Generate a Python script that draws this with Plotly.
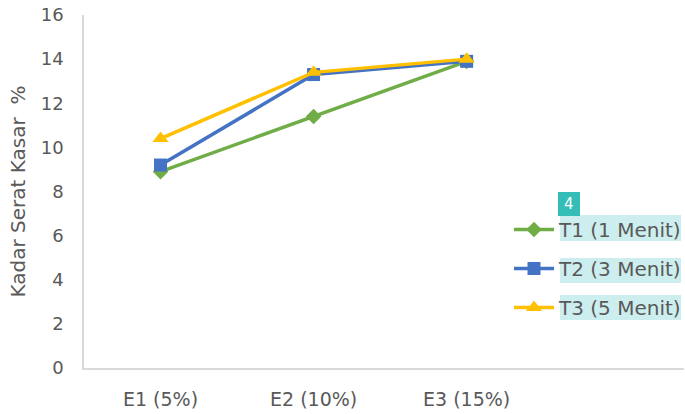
import plotly.graph_objects as go

categories = ["E1 (5%)", "E2 (10%)", "E3 (15%)"]
t1 = [8.9, 11.4, 13.9]
t2 = [9.2, 13.3, 13.9]
t3 = [10.4, 13.4, 14.0]
series_names = ["T1 (1 Menit)", "T2 (3 Menit)", "T3 (5 Menit)"]
y_ticks = [0, 2, 4, 6, 8, 10, 12, 14, 16]

colors = ["#70AD47", "#4472C4", "#FFC000"]
symbols = ["diamond", "square", "triangle-up"]
sizes = [12, 13, 14]
W, H = 685, 414
L, R, T, B = 84, 1, 15, 46
pw, ph = W - L - R, H - T - B

def px(x):
    return (x - L) / pw

def py(y):
    return (H - B - y) / ph

fig = go.Figure()
for i, (name, vals) in enumerate(zip(series_names, [t1, t2, t3])):
    fig.add_trace(go.Scatter(
        x=categories, y=vals, name=name, mode="lines+markers",
        legendgroup=f"g{i}",
        line=dict(color=colors[i], width=3.5),
        marker=dict(symbol=symbols[i], size=sizes[i], color=colors[i]),
    ))

# highlight boxes behind legend texts
for (y0, y1) in [(215, 241), (258, 283), (295, 320)]:
    fig.add_shape(type="rect", xref="paper", yref="paper",
                  x0=px(560), x1=px(681), y0=py(y1), y1=py(y0),
                  fillcolor="#CDEEEE", line=dict(width=0), layer="above")
fig.add_shape(type="rect", xref="paper", yref="paper",
              x0=px(558), x1=px(580), y0=py(216), y1=py(192),
              fillcolor="#35BDB8", line=dict(width=0), layer="above")
fig.add_annotation(text="4", xref="paper", yref="paper", x=px(569), y=py(204),
                   xanchor="center", yanchor="middle",
                   showarrow=False, font=dict(family="DejaVu Sans", size=15, color="white"))

fig.update_layout(
    width=W, height=H,
    margin=dict(l=L, r=R, t=T, b=B, autoexpand=False),
    paper_bgcolor="white", plot_bgcolor="white",
    font=dict(family="DejaVu Sans", color="#595959"),
    showlegend=True,
    legend=dict(x=px(509), y=py(210), xanchor="left", yanchor="top",
                bgcolor="rgba(0,0,0,0)", font=dict(size=20, color="#595959"),
                itemwidth=40, tracegroupgap=10),
    xaxis=dict(type="category", range=[-0.5, 3.42], showgrid=False, automargin=False,
               showline=True, linecolor="#D9D9D9", linewidth=2,
               ticks="", tickfont=dict(size=19), ticklabelstandoff=13, zeroline=False),
    yaxis=dict(range=[0, 16], tickvals=y_ticks, showgrid=False, automargin=False,
               showline=True, linecolor="#D9D9D9", linewidth=1.5,
               ticks="", tickfont=dict(size=18), ticklabelstandoff=15, zeroline=False,
               title=dict(text="Kadar Serat Kasar  %", font=dict(size=20), standoff=10)),
)

fig.write_html("out.html", post_script="document.body.style.margin='0';",
               config={"displayModeBar": False})
